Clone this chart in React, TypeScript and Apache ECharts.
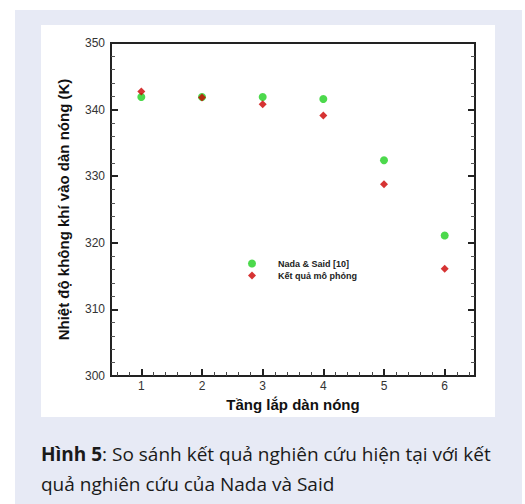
import React, { useEffect, useRef } from "react";
import * as echarts from "echarts";

const layers = [1, 2, 3, 4, 5, 6];
const nadaSaid = [341.9, 341.9, 341.9, 341.6, 332.4, 321.1];
const simulation = [342.7, 341.8, 340.8, 339.1, 328.8, 316.1];
const xMajorTicks = [1, 2, 3, 4, 5, 6];
const xMinorTicks: number[] = [];
for (let i = 3; i <= 32; i++) {
  const v = Math.round(i * 0.2 * 10) / 10;
  if (v > 0.5 && v < 6.5 && Math.abs(v - Math.round(v)) > 1e-6) xMinorTicks.push(v);
}

const seriesNames = ["Nada & Said [10]", "Kết quả mô phỏng"];
const xName = "Tầng lắp dàn nóng";
const yName = "Nhiệt độ không khí vào dàn nóng (K)";

export default function App() {
  const ref = useRef<HTMLDivElement>(null);
  useEffect(() => {
    const chart = echarts.init(ref.current!, null, { renderer: "svg" });
    const axisColor = "#222";
    chart.setOption({
      animation: false,
      backgroundColor: "#ffffff",
      graphic: [
        { type: "rect", z: -10, shape: { x: 15, y: 10, width: 507, height: 494 }, style: { fill: "#e7eaf5" } },
        { type: "rect", z: -9, shape: { x: 41, y: 25, width: 454, height: 392 }, style: { fill: "#ffffff" } },
        {
          type: "text",
          x: 41,
          y: 439,
          style: {
            text: "{b|Hình 5}: So sánh kết quả nghiên cứu hiện tại với kết\nquả nghiên cứu của Nada và Said",
            font: "19px 'Open Sans'",
            fill: "#1a1a1a",
            lineHeight: 30,
            rich: {
              b: { font: "bold 19px 'Open Sans'", fill: "#1a1a1a", lineHeight: 30 },
            },
          },
        },
      ],
      grid: {
        left: 111,
        right: 50,
        top: 43,
        bottom: 128,
        show: true,
        borderColor: axisColor,
        borderWidth: 2,
        backgroundColor: "transparent",
      },
      legend: {
        orient: "vertical",
        left: 243,
        top: 254,
        itemWidth: 8,
        itemHeight: 8,
        itemGap: 3,
        data: seriesNames,
        textStyle: {
          fontFamily: "Arial, 'Liberation Sans'",
          fontWeight: "bold",
          fontSize: 9,
          color: "#222",
          padding: [0, 0, 0, 17],
        },
      },
      xAxis: [
        {
          type: "value",
          min: 0.5,
          max: 6.5,
          position: "bottom",
          name: xName,
          nameLocation: "middle",
          nameGap: 20,
          nameTextStyle: { fontFamily: "Arial, 'Liberation Sans'", fontWeight: "bold", fontSize: 15, color: "#111" },
          axisLine: { show: true, lineStyle: { color: axisColor, width: 2 } },
          axisTick: { show: true, inside: true, length: 7, customValues: xMajorTicks, lineStyle: { color: axisColor, width: 2 } },
          axisLabel: { customValues: xMajorTicks, fontFamily: "Arial, 'Liberation Sans'", fontSize: 12, color: "#333", margin: 4 },
          splitLine: { show: false },
        },
        {
          type: "value",
          min: 0.5,
          max: 6.5,
          position: "bottom",
          axisLine: { show: false },
          axisTick: { show: true, inside: true, length: 4, customValues: xMinorTicks, lineStyle: { color: "#444", width: 1 } },
          axisLabel: { show: false },
          splitLine: { show: false },
        },
      ],
      yAxis: [
        {
          type: "value",
          min: 300,
          max: 350,
          interval: 10,
          position: "left",
          name: yName,
          nameLocation: "middle",
          nameGap: 40,
          nameTextStyle: { fontFamily: "Arial, 'Liberation Sans'", fontWeight: "bold", fontSize: 15, color: "#111" },
          axisLine: { show: true, lineStyle: { color: axisColor, width: 2 } },
          axisTick: { show: true, inside: true, length: 7, lineStyle: { color: axisColor, width: 2 } },
          minorTick: { show: true, splitNumber: 5, length: 4, lineStyle: { color: "#555", width: 1 } },
          axisLabel: { fontFamily: "Arial, 'Liberation Sans'", fontSize: 12, color: "#333", margin: 6 },
          splitLine: { show: false },
        },
        {
          type: "value",
          min: 300,
          max: 350,
          interval: 10,
          position: "right",
          axisLine: { show: true, lineStyle: { color: axisColor, width: 2 } },
          axisTick: { show: true, inside: true, length: 7, lineStyle: { color: axisColor, width: 2 } },
          minorTick: { show: true, splitNumber: 5, length: 4, lineStyle: { color: "#555", width: 1 } },
          axisLabel: { show: false },
          splitLine: { show: false },
        },
      ],
      series: [
        {
          name: seriesNames[0],
          type: "scatter",
          symbol: "circle",
          symbolSize: 8,
          itemStyle: { color: "#1fcf1f" },
          data: layers.map((x, i) => [x, nadaSaid[i]]),
          z: 2,
        },
        {
          name: seriesNames[1],
          type: "scatter",
          symbol: "diamond",
          symbolSize: 8,
          itemStyle: { color: "#cc0000" },
          data: layers.map((x, i) => [x, simulation[i]]),
          z: 3,
        },
      ],
    });
    return () => chart.dispose();
  }, []);
  return <div ref={ref} style={{ position: "fixed", left: 0, top: 0, width: 525, height: 504 }} />;
}
